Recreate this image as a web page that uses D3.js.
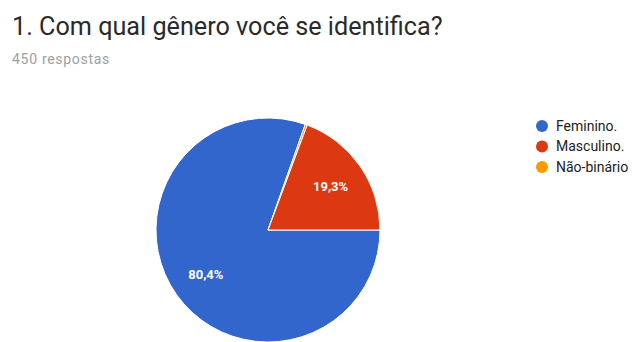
<!DOCTYPE html>
<html lang="pt">
<head>
    <meta charset="UTF-8">
    <title>1. Com qual gênero você se identifica?</title>
    <script src="https://d3js.org/d3.v7.min.js"></script>
    <style>
        body { margin: 0; background: #fff; font-family: Roboto, Arial, sans-serif; overflow: hidden; }
    </style>
</head>
<body>
    <div id="chart"></div>
    <script>
        const categories = ["Feminino.", "Masculino.", "Não-binário"];
        const values = [80.4, 19.3, 0.3];
        const labels = ["80,4%", "19,3%", ""];
        const colors = ["#3366cc", "#dc3912", "#ff9900"];
        // google forms ordering: feminino, nao-binario, masculino around the circle
        const sliceOrder = [0, 2, 1];

        const W = 634, H = 342;
        const cx = 268, cy = 230, r = 112;

        const svg = d3.select("#chart").append("svg")
            .attr("width", W).attr("height", H);

        svg.append("text")
            .attr("x", 12).attr("y", 35)
            .attr("font-size", 25.2)
            .attr("fill", "#2a2a2a")
            .text("1. Com qual gênero você se identifica?");

        svg.append("text")
            .attr("x", 12).attr("y", 64)
            .attr("font-size", 14)
            .attr("letter-spacing", 0.7)
            .attr("fill", "#a0a0a0")
            .text("450 respostas");

        const data = sliceOrder.map(i => ({ name: categories[i], value: values[i], label: labels[i], color: colors[i] }));

        const pie = d3.pie()
            .value(d => d.value)
            .sort(null)
            .startAngle(Math.PI / 2)
            .endAngle(Math.PI / 2 + 2 * Math.PI);

        const arc = d3.arc().innerRadius(0).outerRadius(r);
        const labelArc = d3.arc().innerRadius(r * 0.68).outerRadius(r * 0.68);

        const g = svg.append("g").attr("transform", `translate(${cx},${cy})`);

        const arcs = pie(data);
        g.selectAll("path")
            .data(arcs)
            .enter().append("path")
            .attr("d", arc)
            .attr("fill", d => d.data.color)
            .attr("stroke", "#fff")
            .attr("stroke-width", 1);

        g.selectAll("text")
            .data(arcs)
            .enter().append("text")
            .attr("transform", d => `translate(${labelArc.centroid(d)})`)
            .attr("text-anchor", "middle")
            .attr("dy", "0.35em")
            .attr("font-size", 13)
            .attr("font-weight", "bold")
            .attr("fill", "#fff")
            .text(d => d.data.label);

        const legend = svg.append("g");
        categories.forEach((c, i) => {
            const y = 126 + i * 20.5;
            legend.append("circle")
                .attr("cx", 542).attr("cy", y).attr("r", 6)
                .attr("fill", colors[i]);
            legend.append("text")
                .attr("x", 556).attr("y", y)
                .attr("dy", "0.35em")
                .attr("font-size", 14)
                .attr("fill", "#222")
                .text(c);
        });
    </script>
</body>
</html>
